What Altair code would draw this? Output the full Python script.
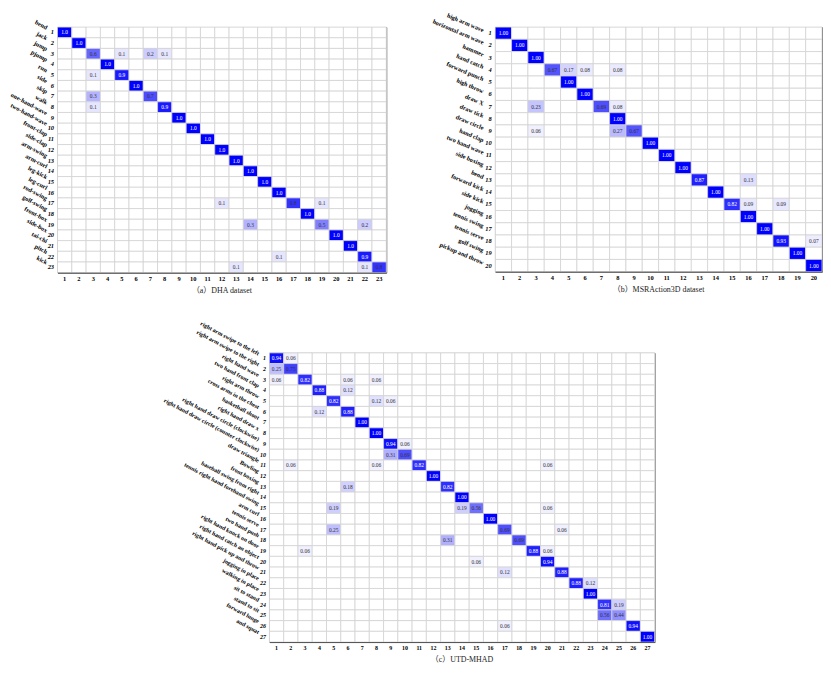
import altair as alt
import pandas as pd

FONT = "Liberation Serif"
CAP_FONT = "Liberation Serif, Noto Sans CJK SC"

DHA_NAMES = ["bend", "jack", "jump", "pjump", "run", "side", "skip", "walk",
             "one-hand-wave", "two-hand-wave", "front-clap", "side-clap",
             "arm-swing", "arm-curl", "leg-kick", "leg-curl", "rod-swing",
             "golf-swing", "front-box", "side-box", "tai-chi", "pitch", "kick"]
DHA_CELLS = [(1, 1, 1.0), (2, 2, 1.0),
             (3, 3, 0.6), (3, 5, 0.1), (3, 7, 0.2), (3, 8, 0.1),
             (4, 4, 1.0), (5, 3, 0.1), (5, 5, 0.9), (6, 6, 1.0),
             (7, 3, 0.3), (7, 7, 0.7), (8, 3, 0.1), (8, 8, 0.9),
             (9, 9, 1.0), (10, 10, 1.0), (11, 11, 1.0), (12, 12, 1.0),
             (13, 13, 1.0), (14, 14, 1.0), (15, 15, 1.0), (16, 16, 1.0),
             (17, 12, 0.1), (17, 17, 0.8), (17, 19, 0.1), (18, 18, 1.0),
             (19, 14, 0.3), (19, 19, 0.5), (19, 22, 0.2),
             (20, 20, 1.0), (21, 21, 1.0), (22, 16, 0.1), (22, 22, 0.9),
             (23, 13, 0.1), (23, 22, 0.1), (23, 23, 0.8)]

MSR_NAMES = ["high arm wave", "horizontal arm wave", "hammer", "hand catch",
             "forward punch", "high throw", "draw X", "draw tick", "draw circle",
             "hand clap", "two hand wave", "side boxing", "bend", "forward kick",
             "side kick", "jogging", "tennis swing", "tennis serve", "golf swing",
             "pickup and throw"]
MSR_CELLS = [(1, 1, 1.00), (2, 2, 1.00), (3, 3, 1.00),
             (4, 4, 0.67), (4, 5, 0.17), (4, 6, 0.08), (4, 8, 0.08),
             (5, 5, 1.00), (6, 6, 1.00),
             (7, 3, 0.23), (7, 7, 0.69), (7, 8, 0.08), (8, 8, 1.00),
             (9, 3, 0.06), (9, 8, 0.27), (9, 9, 0.67),
             (10, 10, 1.00), (11, 11, 1.00), (12, 12, 1.00),
             (13, 13, 0.87), (13, 16, 0.13), (14, 14, 1.00),
             (15, 15, 0.82), (15, 16, 0.09), (15, 18, 0.09),
             (16, 16, 1.00), (17, 17, 1.00), (18, 18, 0.93), (18, 20, 0.07),
             (19, 19, 1.00), (20, 20, 1.00)]

UTD_NAMES = ["right arm swipe to the left", "right arm swipe to the right",
             "right hand wave", "two hand front clap", "right arm throw",
             "cross arms in the chest", "basketball shoot", "right hand draw x",
             "right hand draw circle (clockwise)",
             "right hand draw circle (counter clockwise)", "draw triangle",
             "Bowling", "front boxing", "baseball swing from right",
             "tennis right hand forehand swing", "arm curl", "tennis serve",
             "two hand push", "right hand knock on door",
             "right hand catch an object", "right hand pick up and throw",
             "jogging in place", "walking in place", "sit to stand",
             "stand to sit", "forward lunge", "and squat"]
UTD_CELLS = [(1, 1, 0.94), (1, 2, 0.06), (2, 1, 0.25), (2, 2, 0.75),
             (3, 1, 0.06), (3, 3, 0.82), (3, 6, 0.06), (3, 8, 0.06),
             (4, 4, 0.88), (4, 6, 0.12),
             (5, 5, 0.82), (5, 8, 0.12), (5, 9, 0.06),
             (6, 4, 0.12), (6, 6, 0.88), (7, 7, 1.00), (8, 8, 1.00),
             (9, 9, 0.94), (9, 10, 0.06), (10, 9, 0.31), (10, 10, 0.69),
             (11, 2, 0.06), (11, 8, 0.06), (11, 11, 0.82), (11, 20, 0.06),
             (12, 12, 1.00), (13, 6, 0.18), (13, 13, 0.82), (14, 14, 1.00),
             (15, 5, 0.19), (15, 14, 0.19), (15, 15, 0.56), (15, 20, 0.06),
             (16, 16, 1.00), (17, 5, 0.25), (17, 17, 0.69), (17, 21, 0.06),
             (18, 13, 0.31), (18, 18, 0.69),
             (19, 3, 0.06), (19, 19, 0.88), (19, 20, 0.06),
             (20, 15, 0.06), (20, 20, 0.94), (21, 17, 0.12), (21, 21, 0.88),
             (22, 22, 0.88), (22, 23, 0.12), (23, 23, 1.00),
             (24, 24, 0.81), (24, 25, 0.19), (25, 24, 0.56), (25, 25, 0.44),
             (26, 17, 0.06), (26, 26, 0.94), (27, 27, 1.00)]


def panel(names, cells, fmt, name_size, angle, name_dy, caption, w, h, num_size=6.5):
    n = len(names)
    lookup = {(r, c): v for r, c, v in cells}
    grid = pd.DataFrame([{"row": r, "col": c, "v": lookup.get((r, c), 0.0)}
                         for r in range(1, n + 1) for c in range(1, n + 1)])
    labels = pd.DataFrame({"row": list(range(1, n + 1)), "name": names})
    idx = list(range(1, n + 1))
    xs = alt.X("col:O", scale=alt.Scale(domain=idx, paddingInner=0, paddingOuter=0),
               axis=alt.Axis(title=None, orient="bottom", labelAngle=0, ticks=False,
                             domain=True, domainColor="#555555", labelFont=FONT,
                             labelFontWeight="bold", labelFontSize=num_size,
                             labelPadding=3, labelColor="black", grid=False))
    ys = alt.Y("row:O", scale=alt.Scale(domain=idx, paddingInner=0, paddingOuter=0),
               axis=alt.Axis(title=None, ticks=False, domain=False, labelFont=FONT,
                             labelFontWeight="bold", labelFontStyle="italic",
                             labelFontSize=num_size, labelPadding=4,
                             labelColor="black", grid=False))
    rect = alt.Chart(grid).mark_rect(stroke="#d2d2d2", strokeWidth=0.8).encode(
        x=xs, y=ys,
        color=alt.Color("v:Q", scale=alt.Scale(domain=[0, 1], range=["#ffffff", "#0000ff"],
                                               interpolate="rgb"),
                        legend=None))
    text = alt.Chart(grid).transform_filter("datum.v > 0").mark_text(
        font=FONT, fontSize=5.5).encode(
        x=xs, y=ys,
        text=alt.Text("v:Q", format=fmt),
        color=alt.condition("datum.v > 0.8", alt.value("white"), alt.value("#333333")))
    nm = alt.Chart(labels).mark_text(
        font=FONT, fontSize=name_size, fontWeight="bold", angle=angle,
        align="right", baseline="middle", dy=name_dy, color="black").encode(
        x=alt.value(-13), y=ys, text="name:N")
    return alt.layer(rect, text, nm).properties(
        width=w, height=h,
        title=alt.TitleParams(caption, orient="bottom", font=CAP_FONT, fontSize=8,
                              fontWeight="normal", offset=5, anchor="middle",
                              color="#222222"))


a = panel(DHA_NAMES, DHA_CELLS, ".1f", 6.3, 28, -5, "（a）DHA dataset", 332, 248)
b = panel(MSR_NAMES, MSR_CELLS, ".2f", 6.3, 23, -3, "（b）MSRAction3D dataset", 330, 247)
c = panel(UTD_NAMES, UTD_CELLS, ".2f", 6, 28, -5, "（c）UTD-MHAD", 389, 292, num_size=6)

spacer = alt.Chart(pd.DataFrame({"z": [0]})).mark_point(opacity=0).encode(
    x=alt.value(0), y=alt.value(0)).properties(
    width=214, height=10, view=alt.ViewBackground(stroke="transparent"))

top = alt.hconcat(a, b, spacing=110, bounds="flush")
bottom = alt.hconcat(spacer, c, spacing=0, bounds="flush")

chart = alt.vconcat(top, bottom, spacing=24).properties(
    padding={"left": 0, "top": 0, "right": 0, "bottom": 5}
).configure_view(stroke="#666666", strokeWidth=1)

chart.save("out.html", embed_options={"renderer": "svg", "actions": False})
